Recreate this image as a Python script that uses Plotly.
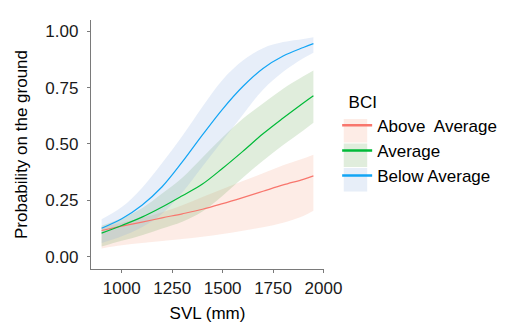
import plotly.graph_objects as go

# SVL (mm) positions at which values were read
svl = [900, 1000, 1100, 1200, 1300, 1400, 1500, 1600, 1700, 1800, 1900, 1950]

groups = ["Above  Average", "Average", "Below Average"]

above_fit = [0.116, 0.135, 0.153, 0.172, 0.190, 0.210, 0.235, 0.262, 0.290, 0.318, 0.343, 0.358]
above_lo  = [0.036, 0.050, 0.060, 0.069, 0.078, 0.088, 0.100, 0.115, 0.130, 0.150, 0.180, 0.203]
above_hi  = [0.130, 0.150, 0.172, 0.197, 0.228, 0.265, 0.300, 0.335, 0.370, 0.405, 0.435, 0.452]

avg_fit = [0.104, 0.138, 0.175, 0.220, 0.270, 0.322, 0.392, 0.467, 0.545, 0.615, 0.682, 0.714]
avg_lo  = [0.045, 0.070, 0.095, 0.125, 0.155, 0.200, 0.270, 0.350, 0.425, 0.495, 0.560, 0.594]
avg_hi  = [0.137, 0.170, 0.215, 0.280, 0.350, 0.440, 0.530, 0.612, 0.680, 0.745, 0.800, 0.826]

below_fit = [0.126, 0.168, 0.228, 0.310, 0.420, 0.540, 0.655, 0.755, 0.835, 0.890, 0.928, 0.945]
below_lo  = [0.060, 0.090, 0.130, 0.190, 0.285, 0.400, 0.515, 0.630, 0.740, 0.820, 0.880, 0.905]
below_hi  = [0.166, 0.220, 0.305, 0.415, 0.535, 0.665, 0.785, 0.870, 0.925, 0.952, 0.966, 0.974]

x_ticks = [1000, 1250, 1500, 1750, 2000]
y_ticks = [0.00, 0.25, 0.50, 0.75, 1.00]

line_colors = ["#F8766D", "#00BA38", "#12A5F5"]
fill_colors = ["rgba(245,160,130,0.20)", "rgba(100,165,80,0.20)", "rgba(135,170,225,0.20)"]
key_colors = ["#FDECE6", "#E0EDDC", "#E7EEF8"]

fits = [above_fit, avg_fit, below_fit]
los = [above_lo, avg_lo, below_lo]
his = [above_hi, avg_hi, below_hi]

FONT = "Liberation Sans, Arial, sans-serif"

fig = go.Figure()

# ribbons
for name, lo, hi, fc in zip(groups, los, his, fill_colors):
    fig.add_trace(go.Scatter(x=svl, y=lo, mode="lines", line=dict(width=0, shape="spline"),
                             showlegend=False, hoverinfo="skip"))
    fig.add_trace(go.Scatter(x=svl, y=hi, mode="lines", line=dict(width=0, shape="spline"),
                             fill="tonexty", fillcolor=fc, showlegend=False, hoverinfo="skip"))

# fitted lines
for name, fit, lc in zip(groups, fits, line_colors):
    fig.add_trace(go.Scatter(x=svl, y=fit, mode="lines", name=name,
                             line=dict(color=lc, width=1.2, shape="spline"),
                             showlegend=False, legendgroup=name))

# legend entries
for name, lc in zip(groups, line_colors):
    fig.add_trace(go.Scatter(x=[None], y=[None], mode="lines", name=name,
                             line=dict(color=lc, width=2.5), legendgroup=name))

L, R, T, B = 81, 177, 12, 57
W, H = 506, 323

pw = W - L - R
ph = H - T - B
def px_to_paper_x(px):
    return (px - L) / pw
def py_to_paper_y(py):
    return (H - B - py) / ph

# legend key backgrounds
key_tops = [113, 138, 163]
shapes = []
for top, kc in zip(key_tops, key_colors):
    shapes.append(dict(type="rect", xref="paper", yref="paper",
                       x0=px_to_paper_x(350), x1=px_to_paper_x(375),
                       y0=py_to_paper_y(top + 24), y1=py_to_paper_y(top),
                       fillcolor=kc, line=dict(width=0), layer="above"))

axis_common = dict(
    showgrid=False, zeroline=False, showline=True, linecolor="#7a7a7a", linewidth=1.4,
    ticks="outside", ticklen=3, tickwidth=1, tickcolor="#7a7a7a",
    tickfont=dict(family=FONT, size=17, color="#1a1a1a"),
    mirror=False,
)

fig.update_layout(
    width=W, height=H,
    margin=dict(l=L, r=R, t=T, b=B, pad=0),
    paper_bgcolor="white", plot_bgcolor="white",
    font=dict(family=FONT, size=17, color="black"),
    xaxis=dict(range=[847.5, 2002.5], tickvals=x_ticks, ticktext=[str(v) for v in x_ticks],
               title=dict(text="SVL (mm)", font=dict(family=FONT, size=17, color="black"), standoff=10),
               **axis_common),
    yaxis=dict(range=[-0.055, 1.05], tickvals=y_ticks, ticktext=[f"{v:.2f}" for v in y_ticks],
               ticklabelstandoff=5,
               title=dict(text="Probability on the ground", font=dict(family=FONT, size=17, color="black"), standoff=13),
               **axis_common),
    legend=dict(title=dict(text="&nbsp;&nbsp;BCI", font=dict(family=FONT, size=17, color="black")),
                font=dict(family=FONT, size=17, color="black"),
                x=px_to_paper_x(343), xanchor="left",
                y=py_to_paper_y(79), yanchor="top",
                bgcolor="rgba(0,0,0,0)", borderwidth=0,
                itemwidth=30, tracegroupgap=0),
    shapes=shapes,
    showlegend=True,
)

fig.write_html("out.html")
